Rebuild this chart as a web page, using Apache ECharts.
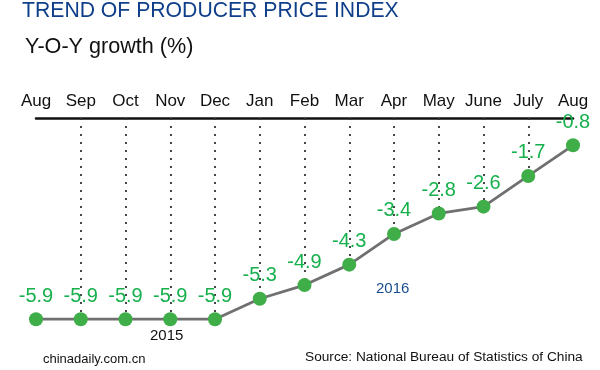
<!DOCTYPE html>
<html><head><meta charset="utf-8">
<script src="https://cdn.jsdelivr.net/npm/echarts@6/dist/echarts.min.js"></script>
<style>html,body{margin:0;padding:0;background:#fff}#c{width:600px;height:370px}</style>
</head><body><div id="c"></div>
<script>
const months = ['Aug','Sep','Oct','Nov','Dec','Jan','Feb','Mar','Apr','May','June','July','Aug'];
const ppi = [-5.9,-5.9,-5.9,-5.9,-5.9,-5.3,-4.9,-4.3,-3.4,-2.8,-2.6,-1.7,-0.8];
const titleText = 'TREND OF PRODUCER PRICE INDEX';
const subtitleText = 'Y-O-Y growth (%)';
const yearLabels = ['2015','2016'];
const creditText = 'chinadaily.com.cn';
const sourceText = 'Source: National Bureau of Statistics of China';

const FONT = '"Liberation Sans", Arial, sans-serif';
const chart = echarts.init(document.getElementById('c'), null, {renderer:'canvas'});

const guideLines = [];
for (let i = 1; i < ppi.length - 1; i++) {
  guideLines.push([{coord:[i, 0]}, {coord:[i, ppi[i]]}]);
}

chart.setOption({
  animation:false,
  backgroundColor:'#fff',
  textStyle:{fontFamily:FONT},
  grid:{left:36, right:27, top:118, bottom:47.4, containLabel:false},
  xAxis:{
    type:'category', position:'top', data:months, boundaryGap:false,
    axisLine:{show:true, lineStyle:{color:'#111', width:2.5}},
    axisTick:{show:false},
    axisLabel:{fontSize:17, color:'#111', margin:8, fontFamily:FONT, interval:0},
    splitLine:{show:false}
  },
  yAxis:{type:'value', min:-6, max:0, show:false, splitLine:{show:false}},
  graphic:[
    {type:'text', left:22, top:1, style:{text:titleText, font:'21.2px '+FONT, fill:'#0f3f8a'}},
    {type:'text', left:25, top:36, style:{text:subtitleText, font:'21.6px '+FONT, fill:'#111'}},
    {type:'text', left:150, top:328, style:{text:yearLabels[0], font:'15px '+FONT, fill:'#111'}},
    {type:'text', left:376, top:281, style:{text:yearLabels[1], font:'15px '+FONT, fill:'#1a4d8f'}},
    {type:'text', left:43, top:353, style:{text:creditText, font:'13px '+FONT, fill:'#111'}},
    {type:'text', left:305, top:350, style:{text:sourceText, font:'13.7px '+FONT, fill:'#111'}}
  ],
  series:[{
    type:'line', data:ppi, symbol:'circle', symbolSize:14,
    itemStyle:{color:'#3fae49'},
    lineStyle:{color:'#707070', width:2.8},
    label:{show:true, position:'top', distance:6, fontSize:20, color:'#16b04c', fontFamily:FONT,
      formatter:p=>p.value.toFixed(1)},
    z:3,
    markLine:{
      silent:true, symbol:['none','none'], animation:false,
      label:{show:false},
      lineStyle:{color:'#333', type:[2,6], width:1.8},
      data:guideLines, z:1
    }
  }]
});
</script></body></html>
